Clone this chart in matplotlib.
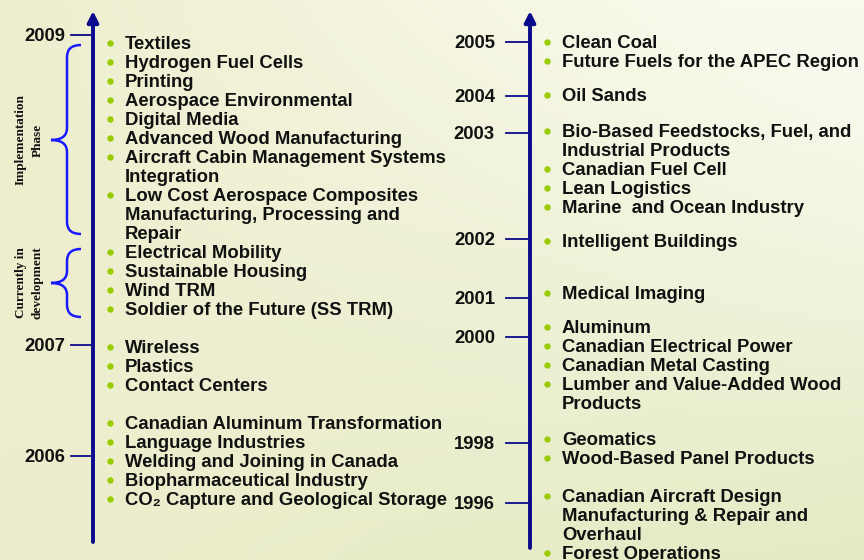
import numpy as np
import matplotlib
matplotlib.use('Agg')
import matplotlib.pyplot as plt
from matplotlib.path import Path
import matplotlib.patches as patches

plt.rcParams['font.family'] = ['Liberation Sans', 'DejaVu Sans']

# ---- data ----
left_years = ['2009', '2007', '2006']
left_groups = [
    ['Textiles', 'Hydrogen Fuel Cells', 'Printing', 'Aerospace Environmental',
     'Digital Media', 'Advanced Wood Manufacturing',
     'Aircraft Cabin Management Systems\nIntegration',
     'Low Cost Aerospace Composites\nManufacturing, Processing and\nRepair',
     'Electrical Mobility', 'Sustainable Housing', 'Wind TRM',
     'Soldier of the Future (SS TRM)'],
    ['Wireless', 'Plastics', 'Contact Centers'],
    ['Canadian Aluminum Transformation', 'Language Industries',
     'Welding and Joining in Canada', 'Biopharmaceutical Industry',
     'CO\u2082 Capture and Geological Storage'],
]
right_years = ['2005', '2004', '2003', '2002', '2001', '2000', '1998', '1996']
right_groups = [
    ['Clean Coal', 'Future Fuels for the APEC Region'],
    ['Oil Sands'],
    ['Bio-Based Feedstocks, Fuel, and\nIndustrial Products', 'Canadian Fuel Cell',
     'Lean Logistics', 'Marine  and Ocean Industry'],
    ['Intelligent Buildings'],
    ['Medical Imaging'],
    ['Aluminum', 'Canadian Electrical Power', 'Canadian Metal Casting',
     'Lumber and Value-Added Wood\nProducts'],
    ['Geomatics', 'Wood-Based Panel Products'],
    ['Canadian Aircraft Design\nManufacturing & Repair and\nOverhaul', 'Forest Operations'],
]
phase_labels = ['Implementation\nPhase', 'Currently in\ndevelopment']

# ---- layout (pixels) ----
step = 19
left_group_top = [49, 353, 429]
left_year_y = [35, 345, 456]
right_group_top = [48, 101, 137, 247, 299, 333, 445, 502]
right_year_y = [42, 96, 133, 239, 298, 337, 443, 503]
phase_spans = [(45, 140, 234), (249, 283, 317)]

navy = '#0a0a8c'
bullet = '#99cc00'
fs = 13.3

fig = plt.figure(figsize=(8.64, 5.6), dpi=100)
ax = fig.add_axes([0, 0, 1, 1])
ax.set_xlim(0, 864)
ax.set_ylim(560, 0)
ax.axis('off')

# background gradient
yy, xx = np.mgrid[0:560, 0:864]
fx = xx / 864.0
fy = yy / 560.0
base = np.array([238, 238, 206]) / 255.0
light = np.array([250, 250, 238]) / 255.0
green = np.array([226, 234, 194]) / 255.0
w_light = np.clip(fx * (1 - fy) * 1.2, 0, 1)[..., None]
w_green = np.clip(fx * fy * 0.9, 0, 1)[..., None]
img = base * (1 - w_light - w_green) + light * w_light + green * w_green
ax.imshow(np.clip(img, 0, 1), extent=(0, 864, 560, 0), aspect='auto', zorder=0)


def draw_column(ax, axis_x, bottom, years, year_y, tick_x0, gap, groups, group_top):
    ax.annotate('', xy=(axis_x, 11), xytext=(axis_x, bottom),
                arrowprops=dict(arrowstyle='-|>', color=navy, lw=2.8,
                                mutation_scale=16, shrinkA=0, shrinkB=0), zorder=3)
    for yr, ty in zip(years, year_y):
        ax.plot([tick_x0, axis_x - 2], [ty, ty], color=navy, lw=1.3, zorder=3)
        ax.text(tick_x0 - gap, ty + 6, yr, ha='right', va='baseline',
                fontsize=fs, fontweight='bold', color='#111111')
    for items, y0 in zip(groups, group_top):
        y = y0
        for item in items:
            ax.plot(axis_x + 17, y - 6, 'o', ms=4.6, color=bullet, mec='none', zorder=3)
            for ln in item.split('\n'):
                ax.text(axis_x + 32, y, ln, ha='left', va='baseline',
                        fontsize=fs, fontweight='bold', color='#111111')
                y += step


draw_column(ax, 93, 542, left_years, left_year_y, 71, 6, left_groups, left_group_top)
draw_column(ax, 530, 548, right_years, right_year_y, 506, 11, right_groups, right_group_top)

# braces
for (y0, ym, y1), lab in zip(phase_spans, phase_labels):
    xe, xv, xt = 81, 67, 51
    r = 12
    verts = [(xe, y0), (xv, y0), (xv, y0 + r),
             (xv, ym - r), (xv, ym), (xt, ym),
             (xv, ym), (xv, ym + r),
             (xv, y1 - r), (xv, y1), (xe, y1)]
    codes = [Path.MOVETO, Path.CURVE3, Path.CURVE3,
             Path.LINETO, Path.CURVE3, Path.CURVE3,
             Path.CURVE3, Path.CURVE3,
             Path.LINETO, Path.CURVE3, Path.CURVE3]
    ax.add_patch(patches.PathPatch(Path(verts, codes), fill=False,
                                   edgecolor='#1a1aff', lw=1.8, zorder=3))
    ax.text(29, ym, lab, rotation=90, ha='center', va='center', multialignment='center',
            fontsize=9.5, fontweight='bold', family='Liberation Serif',
            linespacing=1.5, color='#111111')

fig.savefig('out.png', dpi=100)
